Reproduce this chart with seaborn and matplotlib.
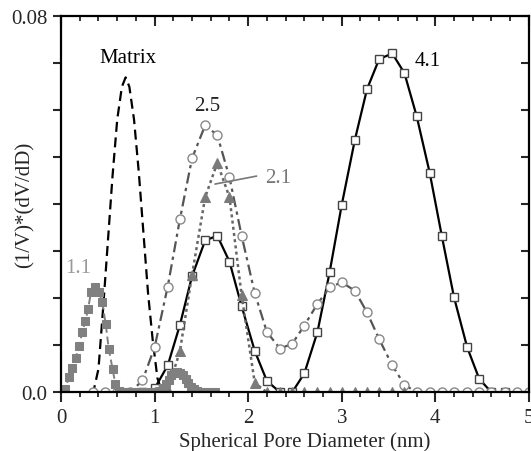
import numpy as np
import seaborn as sns
import matplotlib.pyplot as plt
from matplotlib.ticker import MultipleLocator

# Pore size distributions
matrix_x = [0.30, 0.35, 0.40, 0.45, 0.50, 0.55, 0.60, 0.65, 0.69, 0.73, 0.78, 0.83, 0.88, 0.93, 0.98, 1.03, 1.08]
matrix_y = [0.0, 0.0005, 0.005, 0.018, 0.032, 0.046, 0.058, 0.065, 0.067, 0.065, 0.058, 0.047, 0.034, 0.021, 0.011, 0.003, 0.0]

s11_x = [0.0, 0.043, 0.085, 0.12, 0.157, 0.19, 0.228, 0.26, 0.29, 0.32, 0.363, 0.406, 0.44, 0.477, 0.51, 0.55, 0.58, 0.62,
         0.66, 0.70, 0.74, 0.78, 0.82, 0.86, 0.90, 0.94, 0.98, 1.02, 1.06, 1.09, 1.12, 1.15, 1.18, 1.21, 1.24, 1.27,
         1.30, 1.33, 1.36, 1.39, 1.42, 1.45, 1.48, 1.52, 1.56, 1.60, 1.64]
s11_y = [0.0, 0.0007, 0.0032, 0.0052, 0.0072, 0.0098, 0.0128, 0.0152, 0.0178, 0.0214, 0.0223, 0.0213, 0.0191, 0.0145,
         0.0092, 0.005, 0.0018, 0.0003, 0.0, 0.0, 0.0, 0.0, 0.0, 0.0, 0.0, 0.0, 0.0, 0.0, 0.0002, 0.0008, 0.0017, 0.0027,
         0.0036, 0.0041, 0.0043, 0.0042, 0.0037, 0.0029, 0.0020, 0.0012, 0.0006, 0.0002, 0.0, 0.0, 0.0, 0.0, 0.0]

s21_x = [1.00, 1.14, 1.27, 1.40, 1.54, 1.67, 1.80, 1.93, 2.07, 2.20, 2.34, 2.47, 2.60, 2.74, 2.87, 3.00, 3.14, 3.27,
         3.40, 3.54, 3.67]
s21_y = [0.0, 0.0005, 0.0087, 0.025, 0.0415, 0.0488, 0.0415, 0.0206, 0.002, 0.0, 0.0, 0.0, 0.0, 0.0, 0.0, 0.0, 0.0,
         0.0, 0.0, 0.0, 0.0]

s25_x = [0.34, 0.47, 0.60, 0.74, 0.87, 1.00, 1.14, 1.27, 1.40, 1.54, 1.67, 1.80, 1.93, 2.07, 2.20, 2.34, 2.47, 2.60,
         2.74, 2.87, 3.00, 3.14, 3.27, 3.40, 3.54, 3.67, 3.80, 3.94, 4.07, 4.20, 4.34, 4.47, 4.60, 4.74, 4.87, 5.00]
s25_y = [0.0, 0.0, 0.0, 0.0, 0.0025, 0.0096, 0.0225, 0.0368, 0.0498, 0.0568, 0.0547, 0.0457, 0.0333, 0.0211, 0.0128,
         0.0093, 0.0103, 0.0142, 0.0188, 0.0223, 0.0234, 0.0216, 0.0170, 0.0113, 0.0057, 0.0016, 0.0, 0.0, 0.0, 0.0,
         0.0, 0.0, 0.0, 0.0, 0.0, 0.0]

s41_x = [0.87, 1.00, 1.14, 1.27, 1.40, 1.54, 1.67, 1.80, 1.93, 2.07, 2.20, 2.34, 2.47, 2.60, 2.74, 2.87, 3.00, 3.14,
         3.27, 3.40, 3.54, 3.67, 3.80, 3.94, 4.07, 4.20, 4.34, 4.47, 4.60, 4.74]
s41_y = [0.0, 0.0008, 0.0057, 0.0143, 0.0247, 0.0323, 0.0333, 0.0278, 0.0183, 0.0088, 0.0024, 0.0, 0.0, 0.004,
         0.0128, 0.0255, 0.0399, 0.0537, 0.0645, 0.0709, 0.0721, 0.0679, 0.0588, 0.0467, 0.0332, 0.0202, 0.0096,
         0.0028, 0.0, 0.0]

y_ticks = [0.0, 0.01, 0.02, 0.03, 0.04, 0.05, 0.06, 0.07, 0.08]
y_ticklabels = ["0.0", "", "", "", "", "", "", "", "0.08"]

sns.set_style("ticks")
plt.rcParams['font.family'] = ['Liberation Serif', 'DejaVu Serif']
plt.rcParams['font.size'] = 15

fig = plt.figure(figsize=(5.31, 4.52), dpi=100)
ax = fig.add_axes([0.115, 0.13, 0.881, 0.8317])

sns.lineplot(x=matrix_x, y=matrix_y, ax=ax, color='black', linestyle=(0, (4.5, 2.5)), linewidth=1.6)
sns.lineplot(x=s41_x, y=s41_y, ax=ax, color='black', linewidth=1.6, marker='s', markersize=6,
             markerfacecolor='white', markeredgecolor='#444444', markeredgewidth=1.0)
sns.lineplot(x=s25_x, y=s25_y, ax=ax, color='#555555', linestyle=(0, (5, 2, 1.5, 2)), linewidth=1.6, marker='o',
             markersize=6.5, markerfacecolor='white', markeredgecolor='#888888', markeredgewidth=1.0)
sns.lineplot(x=s21_x, y=s21_y, ax=ax, color='#666666', linestyle=(0, (1.2, 1.3)), linewidth=1.8, marker='^',
             markersize=6.5, markerfacecolor='#7a7a7a', markeredgecolor='#7a7a7a')
sns.lineplot(x=s11_x, y=s11_y, ax=ax, color='#808080', linestyle=(0, (4, 2)), linewidth=1.4, marker='s',
             markersize=5.2, markerfacecolor='#808080', markeredgecolor='#808080')

ax.set_xlim(0, 5)
ax.set_ylim(0, 0.08)
ax.xaxis.set_major_locator(MultipleLocator(1))
ax.xaxis.set_minor_locator(MultipleLocator(0.2))
ax.set_yticks(y_ticks)
ax.set_yticklabels(y_ticklabels)

for side in ['top', 'right', 'left', 'bottom']:
    ax.spines[side].set_visible(True)
    ax.spines[side].set_linewidth(1.6)
    ax.spines[side].set_color('black')

ax.tick_params(axis='x', which='major', direction='out', length=7, width=1.5, top=True, pad=4)
ax.tick_params(axis='x', which='minor', direction='out', length=3.5, width=1.3, top=True)
ax.tick_params(axis='y', which='major', direction='out', length=6, width=1.5, right=True, pad=4)
# top and right ticks point inward
for t in ax.xaxis.get_major_ticks() + ax.xaxis.get_minor_ticks():
    t.tick2line.set_marker(3)
for t in ax.yaxis.get_major_ticks():
    t.tick2line.set_marker(0)

ax.set_xlabel("Spherical Pore Diameter (nm)")
ax.set_ylabel("(1/V)*(dV/dD)")
ax.xaxis.set_label_coords(0.52, -0.105)
ax.yaxis.set_label_coords(-0.056, 0.5)

ax.text(0.715, 0.0713, "Matrix", ha='center', va='center', color='black')
ax.text(1.56, 0.0610, "2.5", ha='center', va='center', color='#222222')
ax.text(2.32, 0.0456, "2.1", ha='center', va='center', color='#777777')
ax.text(3.92, 0.0705, "4.1", ha='center', va='center', color='black')
ax.text(0.18, 0.0266, "1.1", ha='center', va='center', color='#999999')
ax.plot([1.645, 2.09], [0.0443, 0.0460], color='#777777', linewidth=1.2)

fig.savefig('out.png', dpi=100)
